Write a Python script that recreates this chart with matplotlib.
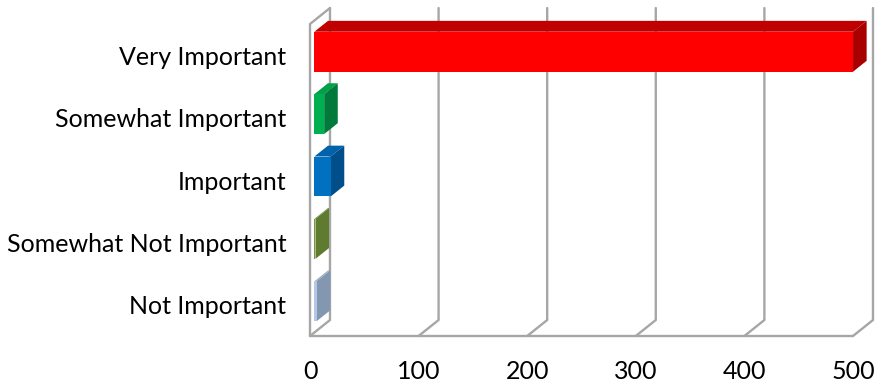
import matplotlib.pyplot as plt
from matplotlib.patches import Polygon

plt.rcParams['font.family'] = ['Lato', 'DejaVu Sans']

categories = ["Not Important", "Somewhat Not Important", "Important",
              "Somewhat Important", "Very Important"]
values = [2, 1, 15, 9, 496]
x_ticks = [0, 100, 200, 300, 400, 500]

front_colors = ["#B4C7E7", "#77933C", "#0070C0", "#00B050", "#FF0000"]
top_colors = ["#9AAFCB", "#6B8A36", "#0062AA", "#00A048", "#C00000"]
side_colors = ["#8497B0", "#5F7B2F", "#004E8A", "#007A3A", "#A80000"]

grid_color = "#A6A6A6"

# depth of the box, in data units (x in value units, y in category units)
DX = 18.4
DY = 0.256
bar_front = 0.22   # bars sit a little behind the front plane
bar_depth = 0.68
bar_h = 0.64

fig = plt.figure(figsize=(8.75, 3.83), dpi=100)
ax = fig.add_axes([310 / 875, 47 / 383, 543 / 875, 312 / 383])
ax.set_xlim(0, 500)
ax.set_ylim(-0.5, len(categories) - 0.5)
for s in ax.spines.values():
    s.set_visible(False)

y0, y1 = -0.5, len(categories) - 0.5
line_kw = dict(color=grid_color, lw=1.7, clip_on=False, zorder=1,
               solid_capstyle="round", solid_joinstyle="round")

# floor front edge and the diagonals running back to each gridline
ax.plot([0, 500], [y0, y0], **line_kw)
for t in x_ticks:
    ax.plot([t, t + DX, t + DX], [y0, y0 + DY, y1 + DY], **line_kw)

# left wall
ax.plot([0, 0, DX], [y0, y1, y1 + DY], **line_kw)

# bars: front face via barh, top and side faces as polygons
ox = bar_front * DX
oy = bar_front * DY
bdx = bar_depth * DX
bdy = bar_depth * DY
ys = list(range(len(categories)))
ax.barh([y + oy for y in ys], values, left=ox, height=bar_h,
        color=front_colors, edgecolor="none", zorder=3)
for y, v, tc, sc in zip(ys, values, top_colors, side_colors):
    xa, xb = ox, ox + v
    yb, yt = y + oy - bar_h / 2, y + oy + bar_h / 2
    ax.add_patch(Polygon([(xa, yt), (xb, yt), (xb + bdx, yt + bdy),
                          (xa + bdx, yt + bdy)], closed=True, color=tc,
                         lw=0, zorder=2, clip_on=False))
    ax.add_patch(Polygon([(xb, yb), (xb, yt), (xb + bdx, yt + bdy),
                          (xb + bdx, yb + bdy)], closed=True, color=sc,
                         lw=0, zorder=2, clip_on=False))

ax.set_yticks(ys)
ax.set_yticklabels(categories)
ax.set_xticks(x_ticks)
ax.set_xticklabels([str(t) for t in x_ticks])
ax.tick_params(axis="both", length=0, labelsize=18, colors="black")
ax.tick_params(axis="y", pad=17)
ax.tick_params(axis="x", pad=17)

fig.savefig("out.png", dpi=100)
